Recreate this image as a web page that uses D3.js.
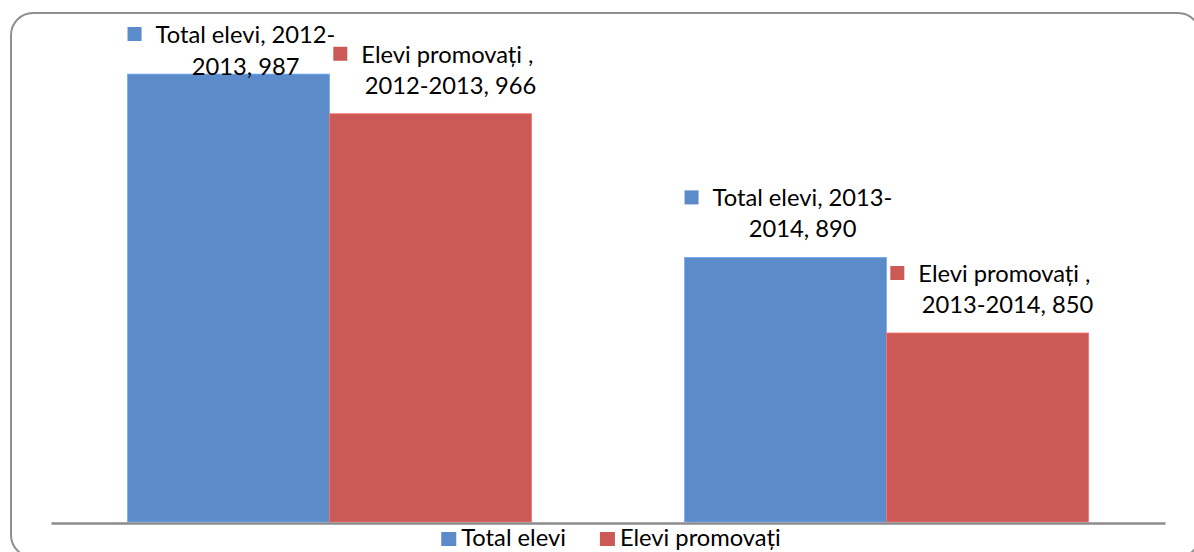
<!DOCTYPE html>
<html>
<head>
<meta charset="utf-8">
<script src="https://cdn.jsdelivr.net/npm/d3@7"></script>
<style>
  html, body { margin: 0; padding: 0; background: #fff; }
  svg { display: block; }
  text { font-family: Lato, "Open Sans", sans-serif; fill: #000; }
</style>
</head>
<body>
<svg id="chart" width="1194" height="552"></svg>
<script>
// ---- data ----
const categories = ["2012-2013", "2013-2014"];
const seriesNames = ["Total elevi", "Elevi promovați "];
const totalElevi = [987, 890];
const eleviPromovati = [966, 850];
const seriesColors = ["#5b8bc9", "#cb5a56"];
const yDomain = [750, 1000];

const seriesValues = [totalElevi, eleviPromovati];

const svg = d3.select("#chart");

// frame
svg.append("rect")
  .attr("x", 11).attr("y", 13)
  .attr("width", 1189).attr("height", 544)
  .attr("rx", 22).attr("ry", 22)
  .attr("fill", "#fff")
  .attr("stroke", "#8f8f8f")
  .attr("stroke-width", 2);

const plot = { left: 51, right: 1165, top: 49.5, bottom: 522 };

const x0 = d3.scaleBand()
  .domain(categories)
  .range([plot.left, plot.right])
  .paddingInner(0.275)
  .paddingOuter(0.1375);

const x1 = d3.scaleBand()
  .domain(d3.range(seriesNames.length))
  .range([0, x0.bandwidth()])
  .padding(0);

const y = d3.scaleLinear().domain(yDomain).range([plot.bottom, plot.top]);

// font: cap-height matched size, compressed horizontally to match width
const FS = 22.5;
const probe = svg.append("text").attr("font-size", FS).text("Total elevi, 2012-");
const probeW = probe.node().getComputedTextLength();
probe.remove();
const KX = 180 / probeW;

function drawText(parent, str, x, yy, anchor) {
  const t = parent.append("text")
    .attr("font-size", FS)
    .attr("text-anchor", anchor || "start")
    .style("white-space", "pre")
    .attr("transform", `translate(${x},${yy}) scale(${KX},1)`)
    .text(str);
  return t;
}
function textW(str) {
  const t = svg.append("text").attr("font-size", FS).style("white-space", "pre").text(str);
  const w = t.node().getComputedTextLength() * KX;
  t.remove();
  return w;
}

// flat data
const rows = [];
categories.forEach((c, ci) => {
  seriesNames.forEach((s, si) => {
    rows.push({ cat: c, ci, si, series: s, value: seriesValues[si][ci] });
  });
});

// bars
svg.append("g").selectAll("rect")
  .data(rows)
  .join("rect")
  .attr("x", d => x0(d.cat) + x1(d.si))
  .attr("y", d => y(d.value))
  .attr("width", x1.bandwidth())
  .attr("height", d => y(yDomain[0]) - y(d.value))
  .attr("fill", d => seriesColors[d.si])
  .attr("stroke", d => d3.color(seriesColors[d.si]).brighter(0.6))
  .attr("stroke-width", 0.8);

// axis line
const xAxis = d3.axisBottom(x0).tickSize(0).tickFormat("");
const axG = svg.append("g").attr("transform", `translate(0,${plot.bottom + 1})`).call(xAxis);
axG.select(".domain").attr("stroke", "#8c8c8c").attr("stroke-width", 2.5);

// data labels
function labelLines(d) {
  if (d.si === 0) {
    const parts = d.cat.split("-");
    return [`${d.series}, ${parts[0]}-`, `${parts[1]}, ${d.value}`];
  }
  return [`${d.series},`, ` ${d.cat}, ${d.value}`];
}

const lg = svg.append("g");
rows.forEach(d => {
  const lines = labelLines(d);
  const g = lg.append("g");
  const w1 = textW(lines[0]);
  const key = 14, gap = 14;
  const cx = x0(d.cat) + x1(d.si) + x1.bandwidth() / 2 + 3;
  const left = cx - (key + gap + w1) / 2;
  let b2 = y(d.value) - 20;
  let b1 = b2 - 31;
  if (b1 < 43) { b1 = 43; b2 = 75; }
  g.append("rect")
    .attr("x", left).attr("y", b1 - 16)
    .attr("width", key).attr("height", key)
    .attr("fill", seriesColors[d.si]);
  drawText(g, lines[0], left + key + gap, b1, "start");
  drawText(g, lines[1], left + key + gap + w1 / 2, b2, "middle");
});

// legend
const legend = svg.append("g");
let lx = 0;
seriesNames.forEach((s, i) => {
  const g = legend.append("g");
  g.append("rect").attr("x", lx).attr("y", -14).attr("width", 15).attr("height", 14)
    .attr("fill", seriesColors[i]);
  drawText(g, s.trim(), lx + 20, 0, "start");
  const w = textW(s.trim());
  lx += 20 + w + 34;
});
const legW = lx - 34;
legend.attr("transform", `translate(${611 - legW / 2},546)`);
</script>
</body>
</html>
